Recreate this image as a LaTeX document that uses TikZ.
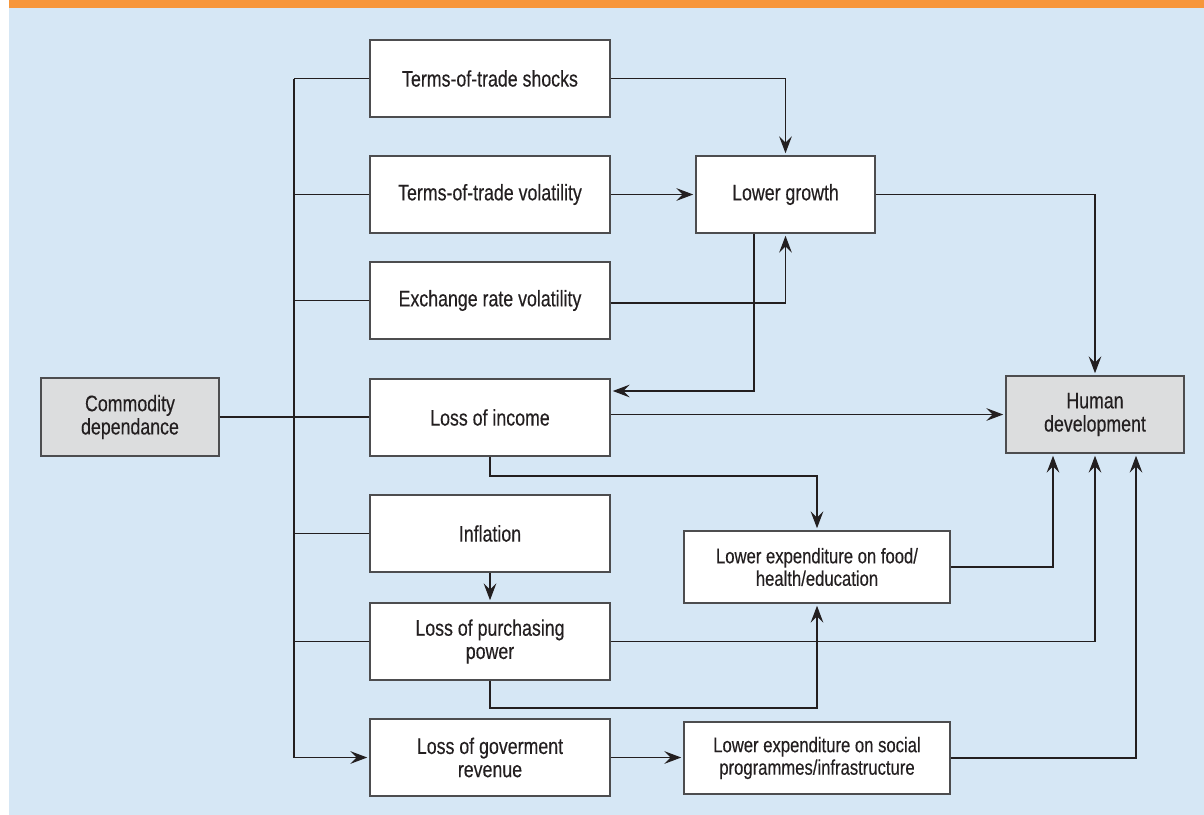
\documentclass[tikz,border=0pt]{standalone}
\usepackage{fontspec}
\setmainfont{Liberation Sans}[FakeStretch=0.79, FakeBold=0.3]
\usepackage{tikz}
\usetikzlibrary{arrows.meta}
\definecolor{page}{HTML}{FFFFFF}
\definecolor{panel}{HTML}{D6E7F5}
\definecolor{band}{HTML}{F7963A}
\definecolor{ink}{HTML}{231F20}
\definecolor{edge}{HTML}{4D4D4F}
\definecolor{keybg}{HTML}{DCDDDE}
\tikzset{
  box/.style={draw=edge, fill=white, line width=0.9pt, minimum width=6cm, minimum height=1.925cm,
    align=center, text=ink, inner sep=2pt, font=\fontsize{16}{16.5}\selectfont},
  key/.style={box, fill=keybg, minimum width=4.45cm, minimum height=1.95cm},
  mid/.style={box, minimum width=4.475cm},
  spend/.style={box, minimum width=6.65cm, minimum height=1.8cm, font=\fontsize{15}{16}\selectfont},
  wire/.style={draw=ink, line width=0.9pt},
  arr/.style={wire, -{Stealth[length=12pt, width=9pt, inset=4.5pt]}, shorten >=1.5pt},
}

\begin{document}
\begin{tikzpicture}[x=0.025cm, y=-0.025cm]
  \useasboundingbox (0,0) rectangle (1204,815);
  \fill[page] (0,0) rectangle (1204,815);
  \fill[panel] (9,8) rectangle (1204,815);
  \fill[band] (9,0) rectangle (1204,8);

  % boxes
  \node[key] (comm) at (130,417) {Commodity\\dependance};
  \node[box] (tots) at (490,78.5) {Terms-of-trade shocks};
  \node[box] (totv) at (490,194.5) {Terms-of-trade volatility};
  \node[box] (erv) at (490,300.5) {Exchange rate volatility};
  \node[box] (loi) at (490,417.5) {Loss of income};
  \node[box] (infl) at (490,533.5) {Inflation};
  \node[box] (lpp) at (490,641.5) {Loss of purchasing\\power};
  \node[box] (lgr) at (490,757.5) {Loss of goverment\\revenue};
  \node[mid] (growth) at (785.5,194.5) {Lower growth};
  \node[key, minimum width=4.45cm, minimum height=1.925cm] (hd) at (1095,414.5) {Human\\development};
  \node[spend] (food) at (817,567) {Lower expenditure on food/\\health/education};
  \node[spend] (social) at (817,758) {Lower expenditure on social\\programmes/infrastructure};

  % bus from commodity dependance
  \coordinate (bus) at (294,0);
  \draw[wire] (comm.east) -- (loi.west |- comm.east);
  \draw[wire] (bus |- tots) -- (bus |- lgr);
  \foreach \n in {tots,totv,erv,infl,lpp}
    \draw[wire] (bus |- \n) -- (\n.west);
  \draw[arr] (bus |- lgr) -- (lgr.west);

  % into lower growth
  \draw[arr] (tots.east) -| (growth.north);
  \draw[arr] (totv.east) -- (growth.west);
  \draw[arr] (erv.east |- 0,303) -| (growth.south);
  \draw[arr] (growth.south -| 754,0) |- (loi.east |- 0,391);

  % into human development
  \draw[arr] (growth.east) -| (hd.north);
  \draw[arr] (loi.east |- hd.west) -- (hd.west);
  \draw[arr] (lpp.east) -| (hd.south);
  \draw[arr] (food.east) -| (hd.south -| 1053,0);
  \draw[arr] (social.east) -| (hd.south -| 1136,0);

  % spending links
  \draw[arr] (loi.south) -- (loi.south |- 0,476) -| (food.north);
  \draw[arr] (lpp.south) -- (lpp.south |- 0,708) -| (food.south);
  \draw[arr] (infl.south) -- (lpp.north);
  \draw[arr] (lgr.east) -- (social.west |- lgr.east);
\end{tikzpicture}
\end{document}
